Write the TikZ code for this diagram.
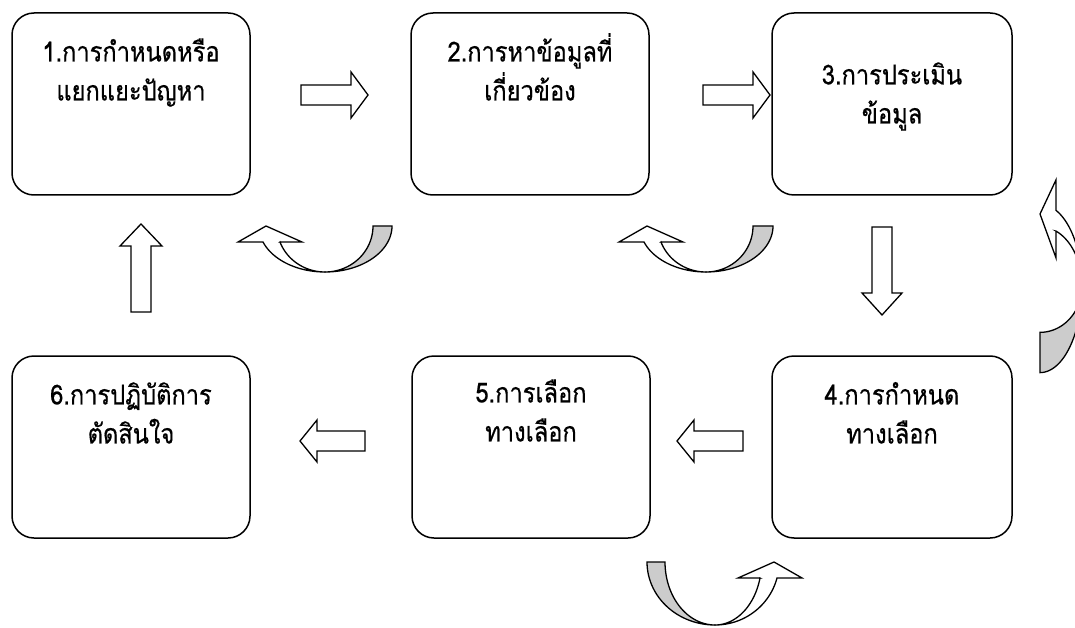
\documentclass[tikz,border=0pt]{standalone}
\usepackage{fontspec}
\newfontfamily\thaifont[Script=Thai, FakeStretch=0.86, FakeBold=0.5]{Loma}
\usetikzlibrary{positioning}

\definecolor{backgray}{RGB}{204,204,204}

% straight block arrow: position, rotation, length, head length, head half width
\newcommand{\fatarrow}[5]{%
  \begin{scope}[shift={#1}, rotate=#2]
    \draw[arrowbody] (0,-10) -- ({#3-#4},-10) -- ({#3-#4},-#5) -- (#3,0)
      -- ({#3-#4},#5) -- ({#3-#4},10) -- (0,10) -- cycle;
  \end{scope}}

% u-turn arrow: depth, inner and outer radius of the back band
\newcommand{\uturnarrow}[3]{%
  \pgfmathsetmacro\ta{180-asin(16/#1)}
  \pgfmathsetmacro\ro{62/cos(asin(16/#1))}
  \pgfmathsetmacro\ri{45/cos(asin(16/#1))}
  \draw[arrowbody, fill=backgray]
    plot[domain=0:90, variable=\t, samples=30] ({#3*cos(\t)},{#1*sin(\t)})
    -- plot[domain=90:0, variable=\t, samples=30] ({#2*cos(\t)},{#1*sin(\t)}) -- cycle;
  \draw[arrowbody]
    plot[domain=90:\ta, variable=\t, samples=30] ({\ro*cos(\t)},{#1*sin(\t)})
    -- (-87,16) -- (-59,0) -- (-23,16) -- (-45,16)
    -- plot[domain=\ta:90, variable=\t, samples=30] ({\ri*cos(\t)},{#1*sin(\t)}) -- cycle;
}

\newcommand{\lead}[1]{\rule{0pt}{#1}}

\begin{document}
\begin{tikzpicture}[x=1pt, y=-1pt,
    stepbox/.style={draw, line width=1.5pt, rounded corners=22pt, fill=white,
      minimum width=238pt, minimum height=182pt},
    steptext/.style={font=\thaifont\fontsize{27.5}{39}\selectfont, align=center,
      inner sep=0pt, anchor=north},
    arrowbody/.style={line width=1.3pt, line join=miter, fill=white}]

    \clip (0,0) rectangle (1075,628);

    % the six steps
    \node[stepbox] (b1) at (131,104) {};
    \node[stepbox] (b2) at (530,104) {};
    \node[stepbox, minimum width=240pt] (b3) at (892,104) {};
    \node[stepbox, minimum width=240pt] (b4) at (892,447) {};
    \node[stepbox] (b5) at (531,447) {};
    \node[stepbox] (b6) at (131,447) {};

    \node[steptext] (t1) at (b1.north) {\lead{49pt}1.การกำหนดหรือ\\แยกแยะปัญหา};
    \node[steptext] (t2) at (b2.north) {\lead{49pt}2.การหาข้อมูลที่\\เกี่ยวข้อง};
    \node[steptext] (t3) at (b3.north) {\lead{72pt}3.การประเมิน\\ข้อมูล};
    \node[steptext] (t4) at (b4.north) {\lead{49pt}4.การกำหนด\\ทางเลือก};
    \node[steptext] (t5) at (b5.north) {\lead{47pt}5.การเลือก\\ทางเลือก};
    \node[steptext] (t6) at (b6.north) {\lead{49pt}6.การปฏิบัติการ\\ตัดสินใจ};

    % block arrows between the steps
    \fatarrow{(301,95)}{0}{67}{17}{23}
    \fatarrow{(703,95)}{0}{67}{17}{23}
    \fatarrow{(882,227)}{-90}{88}{22}{20}
    \fatarrow{(743,441)}{180}{66}{17}{21}
    \fatarrow{(365,441)}{180}{65}{17}{21}
    \fatarrow{(141,312)}{90}{88}{22}{21}

    % u-turn arrows
    \begin{scope}[shift={(325,226)}]
        \uturnarrow{46}{48}{67}
    \end{scope}
    \begin{scope}[shift={(706,226)}]
        \uturnarrow{46}{47}{67}
    \end{scope}
    \begin{scope}[shift={(715,562)}, xscale=-1]
        \uturnarrow{63}{50}{68}
    \end{scope}
    \begin{scope}[cm={0,-1.22,-1,0,(1040,286)}]
        \uturnarrow{42}{38}{71}
    \end{scope}

\end{tikzpicture}
\end{document}
